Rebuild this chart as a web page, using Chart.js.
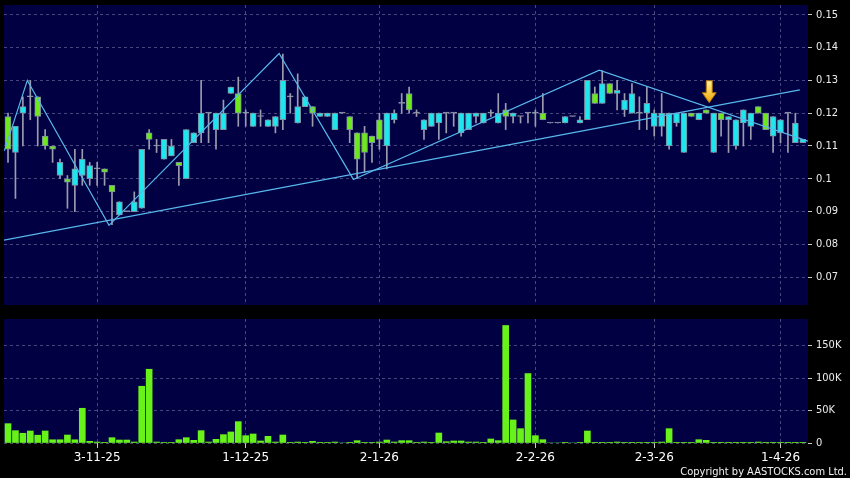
<!DOCTYPE html>
<html>
<head>
<meta charset="utf-8">
<script src="https://cdn.jsdelivr.net/npm/chart.js@4.4.1/dist/chart.umd.min.js"></script>
<style>
  html, body { margin: 0; padding: 0; background: #000; }
  #wrap { position: relative; width: 850px; height: 478px; background: #000; overflow: hidden; }
  #priceBox { position: absolute; left: 0; top: 0; width: 850px; height: 310px; }
  #volBox { position: absolute; left: 0; top: 310px; width: 850px; height: 168px; }
  #copy { position: absolute; right: 3px; top: 465px; color: #f2f2f2;
          font: 11px 'DejaVu Sans Condensed', 'DejaVu Sans', sans-serif; }
</style>
</head>
<body>
<div id="wrap">
  <div id="priceBox"><canvas id="price"></canvas></div>
  <div id="volBox"><canvas id="volume"></canvas></div>
  <div id="copy">Copyright by AASTOCKS.com Ltd.</div>
</div>
<script>
// daily candles, oldest first (one per trading session)
const opens = [
  0.119, 0.108, 0.120, 0.125, 0.125, 0.113, 0.110, 0.101, 0.100, 0.098,
  0.101, 0.100, 0.103, 0.103, 0.098, 0.089, 0.090, 0.090, 0.091, 0.114,
  0.110, 0.106, 0.107, 0.105, 0.100, 0.111, 0.114, 0.120, 0.115, 0.115,
  0.126, 0.126, 0.120, 0.116, 0.119, 0.116, 0.116, 0.118, 0.125, 0.117,
  0.122, 0.122, 0.119, 0.119, 0.115, 0.120, 0.119, 0.114, 0.114, 0.113,
  0.118, 0.110, 0.118, 0.123, 0.126, 0.120, 0.115, 0.116, 0.117, 0.120,
  0.120, 0.114, 0.115, 0.119, 0.117, 0.120, 0.117, 0.121, 0.119, 0.119,
  0.120, 0.120, 0.120, 0.117, 0.117, 0.117, 0.119, 0.117, 0.118, 0.126,
  0.123, 0.129, 0.126, 0.121, 0.120, 0.120, 0.120, 0.116, 0.116, 0.110,
  0.117, 0.108, 0.120, 0.118, 0.121, 0.108, 0.120, 0.118, 0.110, 0.117,
  0.116, 0.122, 0.120, 0.113, 0.114, 0.120, 0.111, 0.111
];
const highs = [
  0.120, 0.116, 0.125, 0.130, 0.125, 0.115, 0.110, 0.106, 0.101, 0.109,
  0.109, 0.105, 0.105, 0.103, 0.098, 0.093, 0.090, 0.096, 0.109, 0.115,
  0.112, 0.112, 0.112, 0.105, 0.115, 0.114, 0.130, 0.120, 0.120, 0.124,
  0.128, 0.131, 0.121, 0.120, 0.121, 0.118, 0.119, 0.138, 0.126, 0.132,
  0.125, 0.122, 0.120, 0.120, 0.120, 0.120, 0.119, 0.114, 0.116, 0.113,
  0.120, 0.120, 0.121, 0.126, 0.128, 0.121, 0.118, 0.120, 0.120, 0.120,
  0.120, 0.120, 0.120, 0.120, 0.120, 0.121, 0.126, 0.123, 0.120, 0.119,
  0.120, 0.121, 0.126, 0.117, 0.117, 0.119, 0.119, 0.119, 0.130, 0.128,
  0.133, 0.129, 0.130, 0.126, 0.129, 0.125, 0.128, 0.121, 0.126, 0.120,
  0.120, 0.120, 0.120, 0.120, 0.121, 0.120, 0.120, 0.119, 0.118, 0.121,
  0.120, 0.122, 0.120, 0.119, 0.118, 0.120, 0.120, 0.112
];
const lows = [
  0.105, 0.094, 0.110, 0.118, 0.110, 0.109, 0.105, 0.100, 0.091, 0.090,
  0.098, 0.098, 0.098, 0.098, 0.086, 0.089, 0.090, 0.090, 0.091, 0.109,
  0.108, 0.106, 0.107, 0.098, 0.100, 0.111, 0.111, 0.111, 0.109, 0.115,
  0.126, 0.116, 0.116, 0.116, 0.116, 0.116, 0.114, 0.115, 0.120, 0.117,
  0.122, 0.116, 0.119, 0.119, 0.115, 0.120, 0.111, 0.100, 0.102, 0.105,
  0.109, 0.103, 0.117, 0.120, 0.120, 0.119, 0.112, 0.116, 0.112, 0.114,
  0.116, 0.113, 0.115, 0.117, 0.117, 0.119, 0.117, 0.115, 0.117, 0.117,
  0.117, 0.116, 0.118, 0.117, 0.117, 0.117, 0.119, 0.117, 0.118, 0.123,
  0.123, 0.126, 0.121, 0.119, 0.120, 0.115, 0.115, 0.113, 0.113, 0.109,
  0.116, 0.108, 0.119, 0.118, 0.120, 0.108, 0.113, 0.108, 0.109, 0.110,
  0.112, 0.120, 0.115, 0.108, 0.111, 0.108, 0.111, 0.111
];
const closes = [
  0.109, 0.116, 0.122, 0.125, 0.119, 0.110, 0.109, 0.105, 0.099, 0.103,
  0.106, 0.104, 0.103, 0.102, 0.096, 0.093, 0.090, 0.093, 0.109, 0.112,
  0.110, 0.112, 0.110, 0.104, 0.115, 0.114, 0.120, 0.120, 0.120, 0.120,
  0.128, 0.120, 0.120, 0.120, 0.119, 0.118, 0.119, 0.130, 0.125, 0.122,
  0.125, 0.120, 0.120, 0.120, 0.120, 0.120, 0.115, 0.106, 0.108, 0.111,
  0.112, 0.120, 0.120, 0.123, 0.121, 0.120, 0.118, 0.120, 0.120, 0.120,
  0.120, 0.120, 0.120, 0.120, 0.120, 0.120, 0.120, 0.119, 0.120, 0.119,
  0.120, 0.120, 0.118, 0.117, 0.117, 0.119, 0.119, 0.118, 0.130, 0.123,
  0.129, 0.126, 0.127, 0.124, 0.126, 0.120, 0.123, 0.120, 0.120, 0.120,
  0.120, 0.120, 0.119, 0.120, 0.120, 0.120, 0.118, 0.119, 0.118, 0.121,
  0.120, 0.120, 0.115, 0.119, 0.118, 0.120, 0.117, 0.112
];
const volumes = [
  29800, 19000, 15000, 18500, 12000, 18500, 5000, 5000, 12300, 5000,
  53500, 2600, 1500, 300, 8200, 4600, 4600, 1500, 87400, 113600,
  1500, 1000, 1000, 5100, 8200, 4100, 19000, 1500, 5700, 12900,
  17000, 32900, 11300, 13900, 3100, 10300, 1500, 12300, 500, 1500,
  300, 2600, 300, 1000, 1500, 0, 300, 3600, 1000, 1000,
  1500, 4600, 1500, 3600, 3600, 1000, 1500, 1000, 15400, 2000,
  3100, 3100, 1500, 1500, 500, 6200, 3600, 181000, 35500, 22100,
  107000, 11300, 5100, 0, 0, 500, 0, 1000, 18500, 300,
  300, 300, 1500, 300, 500, 1000, 1000, 300, 1500, 22100,
  300, 300, 300, 5100, 4100, 500, 300, 300, 300, 300,
  300, 1500, 300, 300, 300, 300, 300, 300
];

// date labels on the time axis (candle index -> label)
const dateTickIndex = [12, 32, 50, 71, 87, 104];
const dateTickLabels = ['3-11-25', '1-12-25', '2-1-26', '2-2-26', '2-3-26', '1-4-26'];
const priceTicks = [0.07, 0.08, 0.09, 0.10, 0.11, 0.12, 0.13, 0.14, 0.15];
const volumeTicks = [0, 50000, 100000, 150000];

// drawn trend lines, [candle index, price]
const swingLine = [[-0.5, 0.1085], [2.6, 0.130], [13.6, 0.0858], [36.5, 0.1382],
                   [46.5, 0.0998], [79.6, 0.1331], [107.7, 0.1115]];
const supportLine = [[-0.54, 0.0813], [106.6, 0.1271]];
const markerIndex = 94;   // yellow arrow above this candle
const markerPrice = 0.1232;

const UP = '#1ee6ef', DOWN = '#6ee81c', FLAT = '#a0a0b0';
const bodyColors = opens.map((o, i) => closes[i] > o ? UP : (closes[i] < o ? DOWN : FLAT));
const gridColor = 'rgba(130,130,175,0.55)';
const trendColor = '#58b8ec';
const xMin = -0.54, xMax = 107.7;

const plotBg = {
  id: 'plotBg',
  beforeDraw(chart) {
    const { ctx, chartArea: a } = chart;
    ctx.save();
    ctx.fillStyle = '#000042';
    ctx.fillRect(a.left, a.top, a.right - a.left, a.bottom - a.top);
    ctx.restore();
  }
};

const arrowMark = {
  id: 'arrowMark',
  afterDatasetsDraw(chart) {
    const { ctx, scales } = chart;
    const x = scales.x.getPixelForValue(markerIndex) + 3;
    const tip = scales.y.getPixelForValue(markerPrice);
    const g = ctx.createLinearGradient(0, tip - 22, 0, tip);
    g.addColorStop(0, '#fff59a');
    g.addColorStop(1, '#f2a400');
    ctx.save();
    ctx.beginPath();
    ctx.moveTo(x - 3, tip - 22);
    ctx.lineTo(x + 3, tip - 22);
    ctx.lineTo(x + 3, tip - 10);
    ctx.lineTo(x + 7, tip - 10);
    ctx.lineTo(x, tip);
    ctx.lineTo(x - 7, tip - 10);
    ctx.lineTo(x - 3, tip - 10);
    ctx.closePath();
    ctx.fillStyle = g;
    ctx.fill();
    ctx.strokeStyle = '#b07000';
    ctx.lineWidth = 1;
    ctx.stroke();
    ctx.restore();
  }
};

const yTickFont = { family: "'DejaVu Sans Condensed', 'DejaVu Sans'", size: 11 };

// keep the plot box where the reference has it: no label overhang padding
function fixBox(size, horizontal) {
  return s => {
    if (horizontal) s.height = size; else s.width = size;
    s.paddingTop = 0; s.paddingBottom = 0; s.paddingLeft = 0; s.paddingRight = 0;
  };
}

function xAxis(showLabels) {
  return {
    type: 'linear',
    min: xMin,
    max: xMax,
    offset: false,
    afterBuildTicks: s => { s.ticks = dateTickIndex.map(v => ({ value: v })); },
    afterFit: fixBox(showLabels ? 35 : 5, true),
    grid: { color: gridColor, offset: false, drawTicks: showLabels, tickLength: 5,
            tickColor: '#c8c8c8', tickBorderDash: [] },
    border: { display: false, dash: [3, 3] },
    ticks: {
      display: showLabels,
      autoSkip: false,
      maxRotation: 0,
      padding: 3,
      color: '#ffffff',
      font: { family: "'DejaVu Sans'", size: 12 },
      callback: (v, i) => dateTickLabels[i]
    }
  };
}

new Chart(document.getElementById('price'), {
  type: 'bar',
  data: {
    datasets: [
      { type: 'line', data: swingLine.map(([x, y]) => ({ x, y })), borderColor: trendColor,
        borderWidth: 1.2, pointRadius: 0, tension: 0, order: 0 },
      { type: 'line', data: supportLine.map(([x, y]) => ({ x, y })), borderColor: trendColor,
        borderWidth: 1.2, pointRadius: 0, tension: 0, order: 0 },
      { data: opens.map((o, i) => ({ x: i, y: [o, closes[i]] })), backgroundColor: bodyColors,
        borderColor: '#7e8e9e', borderWidth: 1, borderSkipped: false, barThickness: 6,
        minBarLength: 1, grouped: false, order: 1 },
      { data: lows.map((l, i) => ({ x: i, y: [l, highs[i]] })), backgroundColor: '#9c9cae',
        barThickness: 1, grouped: false, order: 2 }
    ]
  },
  options: {
    responsive: true,
    maintainAspectRatio: false,
    animation: false,
    layout: { padding: { top: 5, left: 4, right: 0, bottom: 0 } },
    plugins: { legend: { display: false }, tooltip: { enabled: false } },
    scales: {
      x: xAxis(false),
      y: {
        position: 'right',
        min: 0.0615,
        max: 0.153,
        afterBuildTicks: s => { s.ticks = priceTicks.map(v => ({ value: v })); },
        afterFit: fixBox(42, false),
        grid: { color: gridColor, tickLength: 4, tickColor: '#c8c8c8', tickBorderDash: [] },
        border: { display: false, dash: [3, 3] },
        ticks: { color: '#ececec', padding: 4, font: yTickFont,
                 callback: v => String(Number(v.toFixed(2))) }
      }
    }
  },
  plugins: [plotBg, arrowMark]
});

new Chart(document.getElementById('volume'), {
  type: 'bar',
  data: {
    datasets: [
      { data: volumes.map((v, i) => ({ x: i, y: v })), backgroundColor: '#68f21a',
        barThickness: 6, grouped: false }
    ]
  },
  options: {
    responsive: true,
    maintainAspectRatio: false,
    animation: false,
    layout: { padding: { top: 9, left: 4, right: 0, bottom: 0 } },
    plugins: { legend: { display: false }, tooltip: { enabled: false } },
    scales: {
      x: xAxis(true),
      y: {
        position: 'right',
        min: 0,
        max: 191000,
        afterBuildTicks: s => { s.ticks = volumeTicks.map(v => ({ value: v })); },
        afterFit: fixBox(42, false),
        grid: { color: gridColor, tickLength: 4, tickColor: '#c8c8c8', tickBorderDash: [] },
        border: { display: false, dash: [3, 3] },
        ticks: { color: '#ececec', padding: 4, font: yTickFont,
                 callback: v => v === 0 ? '0' : (v / 1000) + 'K' }
      }
    }
  },
  plugins: [plotBg]
});
</script>
</body>
</html>
